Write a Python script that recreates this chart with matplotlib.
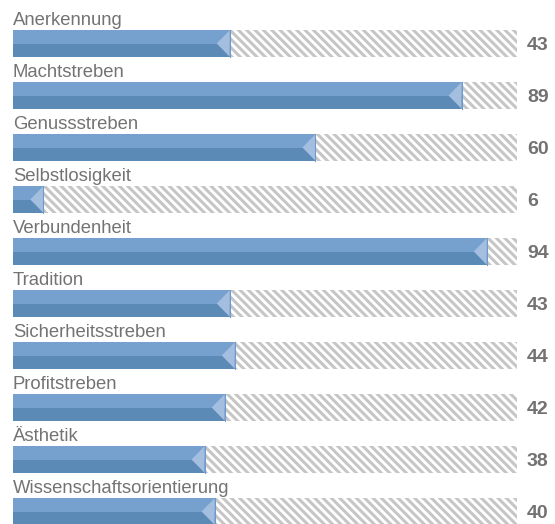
import matplotlib
matplotlib.use("Agg")
import matplotlib.pyplot as plt
from matplotlib.patches import Rectangle, Polygon

categories = ["Anerkennung", "Machtstreben", "Genussstreben", "Selbstlosigkeit",
              "Verbundenheit", "Tradition", "Sicherheitsstreben", "Profitstreben",
              "Ästhetik", "Wissenschaftsorientierung"]
values = [43, 89, 60, 6, 94, 43, 44, 42, 38, 40]
max_value = 100

plt.rcParams['font.family'] = ['Liberation Sans', 'DejaVu Sans']
plt.rcParams['hatch.linewidth'] = 2.2
plt.rcParams['hatch.color'] = '#c6c6c6'

W, H, DPI = 555, 524, 100
fig = plt.figure(figsize=(W / DPI, H / DPI), dpi=DPI)
ax = fig.add_axes([0, 0, 1, 1])
ax.set_axis_off()

px_per_unit = 5.04
x0_px = 13
ax.set_xlim(-x0_px / px_per_unit, (W - x0_px) / px_per_unit)
pitch = 52.0
c0 = 43.5
ax.set_ylim((H - c0) / pitch, -c0 / pitch)

bh = 26.5 / pitch
tri_w = 13 / px_per_unit
light = '#76a0cd'
dark = '#5b8ab6'
tri = '#a4bee0'

for i, (cat, v) in enumerate(zip(categories, values)):
    top = i - bh / 2
    # hatched remainder
    ax.add_patch(Rectangle((v, top), max_value - v, bh, facecolor='white',
                           edgecolor='#c6c6c6', hatch='\\' * 4, linewidth=0))
    # bar halves
    ax.add_patch(Rectangle((0, top), v, bh / 2, facecolor=light, edgecolor='none'))
    ax.add_patch(Rectangle((0, i), v, bh / 2, facecolor=dark, edgecolor='none'))
    # notch triangle
    ax.add_patch(Polygon([(v, top), (v, top + bh), (v - tri_w, i)],
                         closed=True, facecolor=tri, edgecolor='none'))
    ax.plot([v, v], [top, top + bh], color='#6f9ad0', linewidth=0.8)
    # labels
    ax.text(0, top - 5 / pitch, cat, fontsize=13.3, color='#737373',
            ha='left', va='baseline')
    ax.text((527 - x0_px) / px_per_unit, i + 2 / pitch, str(v), fontsize=14,
            fontweight='bold', color='#727272', ha='left', va='center')

fig.savefig('out.png', dpi=DPI)
